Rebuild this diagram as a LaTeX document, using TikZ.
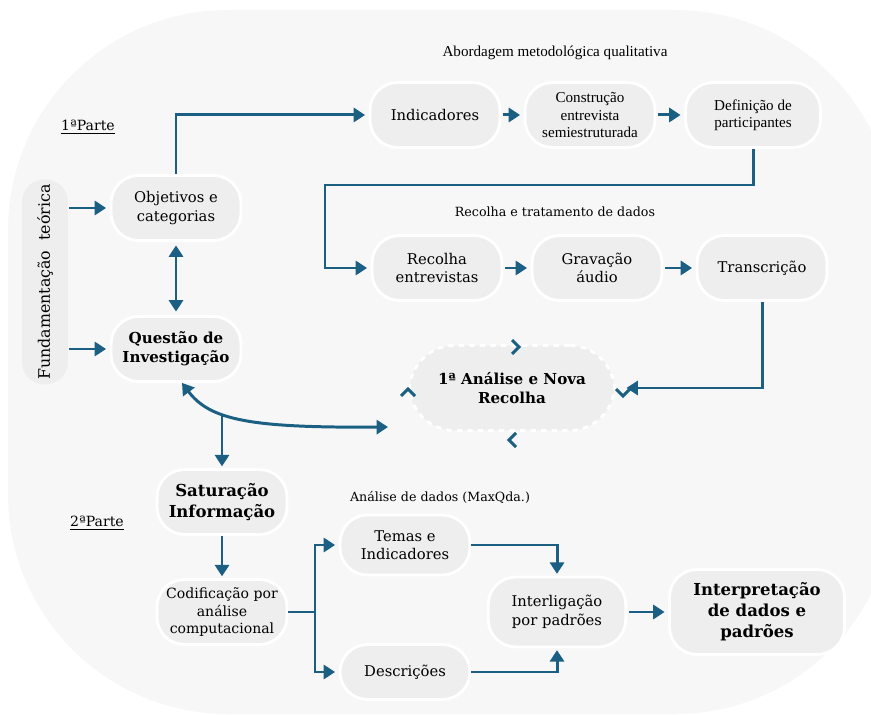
\documentclass[tikz,border=0pt]{standalone}
\usepackage{fontspec}
\setmainfont{DejaVu Serif}
\newfontfamily\narrowfont{Liberation Serif}
\usetikzlibrary{arrows.meta, positioning, calc}
\definecolor{bggrey}{HTML}{F7F7F7}
\definecolor{boxgrey}{HTML}{EEEEEE}
\definecolor{arrblue}{HTML}{1B6083}
\tikzset{
  box/.style={draw=white, line width=1.6pt, fill=boxgrey, rounded corners=0.55cm,
    minimum width=2.6cm, minimum height=1.3cm, align=center, inner sep=2pt,
    font=\fontsize{8.4}{10.5}\selectfont},
  boldbox/.style={box, font=\fontsize{8.6}{11}\selectfont\bfseries},
  narrowbox/.style={box, font=\narrowfont\fontsize{8.6}{9.8}\selectfont},
  arr/.style={draw=arrblue, line width=1.7pt, -{Triangle[length=6.5pt,width=8pt]}},
  dblarr/.style={arr, {Triangle[length=6.5pt,width=8pt]}-{Triangle[length=6.5pt,width=8pt]}},
  plainline/.style={draw=arrblue, line width=1.7pt},
  chev/.style={draw=arrblue, line width=1.7pt},
  sect/.style={font=\fontsize{7.2}{9}\selectfont}
}
\begin{document}
\begin{tikzpicture}[x=0.02cm, y=-0.02cm]
  \useasboundingbox (0,0) rectangle (871,715);
  % background
  \fill[bggrey, rounded corners=4.4cm] (8,10) rectangle (895,714);

  % 1a parte
  \node[sect, font=\narrowfont\fontsize{8.6}{10}\selectfont] (abord) at (555,53) {Abordagem metodológica qualitativa};
  \node[sect, font=\fontsize{8}{10}\selectfont] (parte1) at (88,127) {\underline{1ªParte}};
  \node[box, draw=none, rotate=90, minimum width=4.1cm, minimum height=0.92cm, rounded corners=0.45cm, font=\fontsize{9}{11}\selectfont] (fund) at (45,282) {Fundamentação\ \ teórica};
  \node[box] (obj) at (176,208) {Objetivos e\\categorias};
  \node[boldbox] (quest) at (176,349) {Questão de\\Investigação};
  \node[box] (ind) at (435,115) {Indicadores};
  \node[narrowbox] (constr) at (590,115) {Construção\\entrevista\\semiestruturada};
  \node[narrowbox, minimum width=2.7cm] (defin) at (753,115) {Definição de\\participantes};

  \node[sect] (recolha) at (555,212) {Recolha e tratamento de dados};
  \node[box] (recol) at (437,268) {Recolha\\entrevistas};
  \node[box] (grav) at (597,268) {Gravação\\áudio};
  \node[box] (transc) at (762,268) {Transcrição};

  \node[boldbox, dashed, rounded corners=0.9cm, minimum width=4.1cm, minimum height=1.7cm] (anal) at (512,388) {1ª Análise e Nova\\Recolha};
  % chevrons round the analysis
  \draw[chev] (512,340) -- (519,347) -- (512,354);
  \draw[chev] (616,389) -- (623,396) -- (630,389);
  \draw[chev] (516,433) -- (509,440) -- (516,447);
  \draw[chev] (401,396) -- (408,389) -- (415,396);

  % 2a parte
  \node[sect, font=\fontsize{8}{10}\selectfont] (parte2) at (97,523) {\underline{2ªParte}};
  \node[boldbox, font=\fontsize{9.4}{12}\selectfont\bfseries] (satur) at (222,502) {Saturação\\Informação};
  \node[box, font=\fontsize{8}{10}\selectfont] (codif) at (222,612) {Codificação por\\análise\\computacional};
  \node[sect] (maxqda) at (440,497) {Análise de dados (MaxQda.)};
  \node[box, minimum height=1.2cm] (temas) at (405,545) {Temas e\\Indicadores};
  \node[box, minimum height=1.1cm] (descr) at (405,672) {Descrições};
  \node[box, minimum width=2.75cm, minimum height=1.4cm] (interl) at (557,612) {Interligação\\por padrões};
  \node[boldbox, font=\fontsize{9.4}{12}\selectfont\bfseries, minimum width=3.5cm, minimum height=1.7cm] (interp) at (757,612) {Interpretação\\de dados e\\padrões};

  % connectors
  \draw[arr, shorten >=2pt] (fund.south |- obj.west) -- (obj.west);
  \draw[arr, shorten >=2pt] (fund.south |- quest.west) -- (quest.west);
  \draw[dblarr, shorten <=2pt, shorten >=2pt] (obj.south) -- (quest.north);
  \draw[arr, shorten >=2pt] (obj.north) |- (ind.west);
  \draw[arr, shorten <=1pt, shorten >=2pt] (ind.east) -- (constr.west);
  \draw[arr, shorten <=1pt, shorten >=2pt] (constr.east) -- (defin.west);
  \draw[arr, shorten >=2pt] (defin.south) |- (325,185) |- (recol.west);
  \draw[arr, shorten <=1pt, shorten >=2pt] (recol.east) -- (grav.west);
  \draw[arr, shorten <=1pt, shorten >=2pt] (grav.east) -- (transc.west);
  \draw[arr, shorten >=6pt] (transc.south) |- (anal.east);
  \coordinate (anin) at (388,427);
  \draw[dblarr] (quest.280) .. controls (210,420) and (250,428) .. (anin);
  \coordinate (satin) at (222,414);
  \draw[arr, shorten >=1pt] (satin) -- (satur.north);
  \draw[arr, shorten >=1pt] (satur.south) -- (codif.north);
  \coordinate (fork) at (315,612);
  \draw[plainline] (codif.east) -- (fork);
  \draw[arr, shorten >=2pt] (fork) |- (temas.west);
  \draw[arr, shorten >=2pt] (fork) |- (descr.west);
  \draw[arr, shorten >=1pt] (temas.east) -| (interl.north);
  \draw[arr, shorten >=1pt] (descr.east) -| (interl.south);
  \draw[arr, shorten <=1pt, shorten >=2pt] (interl.east) -- (interp.west);
\end{tikzpicture}
\end{document}
